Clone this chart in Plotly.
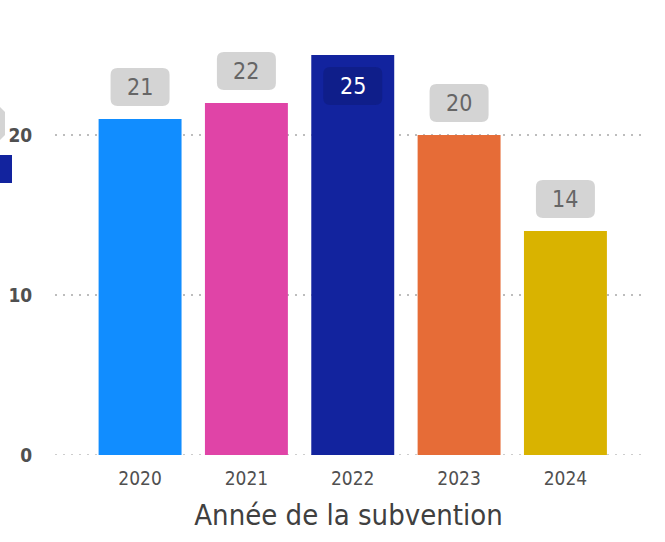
import plotly.graph_objects as go

years = ["2020", "2021", "2022", "2023", "2024"]
values = [21, 22, 25, 20, 14]
colors = ["#118DFF", "#E044A7", "#12239E", "#E66C37", "#D9B300"]
y_ticks = [0, 10, 20]
x_title = "Année de la subvention"

FONT = "DejaVu Sans Condensed, sans-serif"
W, H = 665, 542
L, R, T, B = 55, 23, 39, 87
PW, PH = W - L - R, H - T - B

xs = list(range(len(years)))
fig = go.Figure(go.Bar(x=xs, y=values, marker=dict(color=colors, line=dict(width=0)),
                       width=0.78, hoverinfo="skip"))


def rrect(x0, x1, y0, y1, r):
    return (f"M{x0+r},{y0} L{x1-r},{y0} Q{x1},{y0} {x1},{y0+r} L{x1},{y1-r} Q{x1},{y1} {x1-r},{y1} "
            f"L{x0+r},{y1} Q{x0},{y1} {x0},{y1-r} L{x0},{y0+r} Q{x0},{y0} {x0+r},{y0} Z")


max_v = max(values)
for xi, v in zip(xs, values):
    inside = v == max_v
    if inside:
        y0, y1, fill, tc, ys = -50, -12, "#0F1E8A", "white", -31
    else:
        y0, y1, fill, tc, ys = 13, 51, "#D4D4D4", "#666666", 32
    fig.add_shape(type="path", xref="x", yref="y", xsizemode="pixel", ysizemode="pixel",
                  xanchor=xi, yanchor=v, path=rrect(-29.5, 29.5, y0, y1, 7),
                  fillcolor=fill, line=dict(width=0), layer="above")
    fig.add_annotation(x=xi, y=v, text=str(v), showarrow=False, yshift=ys,
                       font=dict(family=FONT, size=23, color=tc))

# dotted baseline at zero
fig.add_shape(type="line", xref="paper", yref="y", x0=0, x1=1, y0=0, y1=0,
              line=dict(color="#BDBDBD", width=1.5, dash="2px,6px"), layer="below")

# cut-off elements at left edge
def px(xp):
    return (xp - L) / PW


def py(yp):
    return (H - B - yp) / PH


fig.add_shape(type="path", xref="paper", yref="paper",
              path=f"M{px(-20)},{py(107)} L{px(0)},{py(107)} L{px(5)},{py(112)} L{px(5)},{py(135)} L{px(0)},{py(140)} L{px(-20)},{py(140)} Z",
              fillcolor="#D4D4D4", line=dict(width=0))
fig.add_shape(type="rect", xref="paper", yref="paper", x0=px(-5), x1=px(12), y0=py(183), y1=py(155),
              fillcolor="#12239E", line=dict(width=0))

fig.update_layout(
    width=W, height=H, margin=dict(l=L, r=R, t=T, b=B),
    paper_bgcolor="white", plot_bgcolor="white", showlegend=False,
    font=dict(family=FONT, color="#605E5C"),
    xaxis=dict(tickmode="array", tickvals=xs, ticktext=years, range=[-0.8, 4.72],
               showgrid=False, zeroline=False, showline=False, automargin=False,
               tickfont=dict(size=19, color="#505050"), ticks="outside", ticklen=6, tickcolor="rgba(0,0,0,0)",
               title=dict(text=x_title, font=dict(size=29, color="#404040"), standoff=16)),
    yaxis=dict(range=[0, PH / 16], tickvals=y_ticks, showgrid=True, gridcolor="#BDBDBD", griddash="2px,6px",
               gridwidth=1.5, zeroline=False, showline=False, automargin=False,
               tickfont=dict(size=19, color="#505050", weight="bold"), ticks="outside", ticklen=18,
               tickcolor="rgba(0,0,0,0)"),
)

fig.write_html("out.html", config={"displayModeBar": False},
               post_script="document.body.style.margin='0';document.body.style.padding='0';")
